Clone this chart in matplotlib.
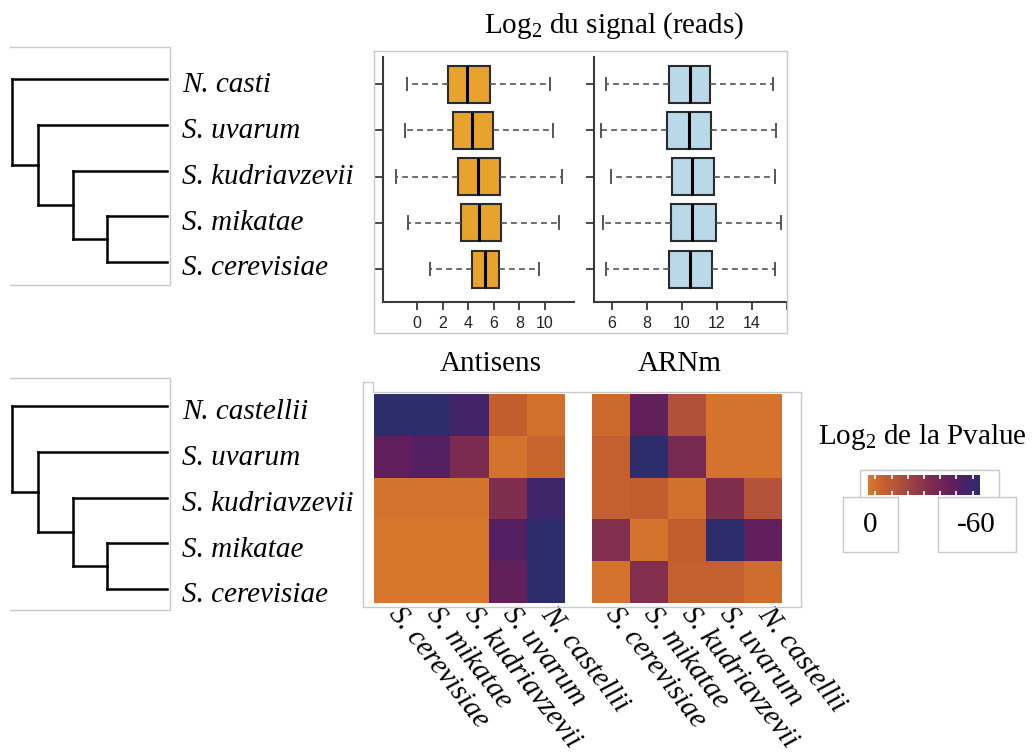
import numpy as np
import matplotlib
matplotlib.use("Agg")
import matplotlib.pyplot as plt
from matplotlib.lines import Line2D
from matplotlib.colors import LinearSegmentedColormap, Normalize
from matplotlib.cm import ScalarMappable

# ---------------- data ----------------
species_top = ["N. casti", "S. uvarum", "S. kudriavzevii", "S. mikatae", "S. cerevisiae"]
species_bottom = ["N. castellii", "S. uvarum", "S. kudriavzevii", "S. mikatae", "S. cerevisiae"]
heat_cols = ["S. cerevisiae", "S. mikatae", "S. kudriavzevii", "S. uvarum", "N. castellii"]

# tree: merges of (child_a, child_b); leaves 0..4, internal nodes 5..8
tree_merges = [(3, 4), (2, 5), (1, 6), (0, 7)]
tree_depth = [0.613, 0.394, 0.168, 0.0]   # x position of each merge (leaves at 1.0)

# boxplot stats (rows in species_top order)
anti_whislo = [-0.8, -0.94, -1.64, -0.68, 1.02]
anti_q1 = [2.45, 2.79, 3.23, 3.41, 4.27]
anti_med = [3.88, 4.27, 4.79, 4.87, 5.31]
anti_q3 = [5.70, 5.96, 6.48, 6.54, 6.41]
anti_whishi = [10.4, 10.65, 11.3, 11.1, 9.53]

mrna_whislo = [5.70, 5.39, 5.96, 5.53, 5.68]
mrna_q1 = [9.26, 9.14, 9.47, 9.40, 9.26]
mrna_med = [10.46, 10.40, 10.61, 10.58, 10.46]
mrna_q3 = [11.64, 11.70, 11.85, 11.95, 11.75]
mrna_whishi = [15.22, 15.41, 15.31, 15.70, 15.31]

anti_xticks = [0, 2, 4, 6, 8, 10]
mrna_xticks = [6, 8, 10, 12, 14, 16]
mrna_xticklabels = ["6", "8", "10", "12", "14", ""]

# log2 p-values (rows: species_bottom, cols: heat_cols)
antisens = [
    [-60, -60, -53, -9, -3],
    [-45, -48, -34, -2, -7],
    [-2, -2, -2, -33, -54],
    [-1, -1, -1, -48, -60],
    [-1, -1, -1, -44, -60],
]
arnm = [
    [-5, -44, -16, -2, -2],
    [-8, -60, -36, -2, -2],
    [-8, -9, -3, -33, -15],
    [-32, -2, -9, -60, -45],
    [-2, -32, -8, -8, -4],
]
pval_min, pval_max = -60, 0

# ---------------- style ----------------
plt.rcParams["font.family"] = ["Liberation Serif", "DejaVu Serif"]
plt.rcParams["mathtext.fontset"] = "custom"
plt.rcParams["mathtext.rm"] = "Liberation Serif"
plt.rcParams["mathtext.it"] = "Liberation Serif:italic"

W, H = 1032, 753
fig = plt.figure(figsize=(W / 100, H / 100), dpi=100)
FRAME = "#c9c9c9"
LABEL_FS = 21


def add_ax(x0, y0, x1, y1):
    return fig.add_axes([x0 / W, 1 - y1 / H, (x1 - x0) / W, (y1 - y0) / H])


def frame(pts):
    xs = [p[0] / W for p in pts]
    ys = [1 - p[1] / H for p in pts]
    fig.add_artist(Line2D(xs, ys, color=FRAME, lw=1.0))


def draw_tree(ax, labels):
    pos_y = {i: float(i) for i in range(len(labels))}
    pos_x = {i: 1.0 for i in range(len(labels))}
    node = len(labels)
    for (a, b), d in zip(tree_merges, tree_depth):
        ax.plot([d, d], [pos_y[a], pos_y[b]], color="black", lw=1.8,
                solid_capstyle="projecting", clip_on=False)
        for c in (a, b):
            ax.plot([d, pos_x[c]], [pos_y[c], pos_y[c]], color="black", lw=1.8,
                    solid_capstyle="projecting", clip_on=False)
        pos_y[node] = (pos_y[a] + pos_y[b]) / 2
        pos_x[node] = d
        node += 1
    ax.set_xlim(0, 1)
    ax.set_ylim(len(labels) - 1, 0)
    ax.axis("off")
    for i, lab in enumerate(labels):
        ax.text(1.1, i + 0.14, lab, style="italic", fontsize=LABEL_FS,
                va="center", ha="left", clip_on=False)


# ---------------- dendrograms ----------------
frame([(10, 47), (170, 47), (170, 285), (10, 285)])
draw_tree(add_ax(12, 79, 167, 262), species_top)

frame([(10, 378), (170, 378), (170, 610), (10, 610)])
draw_tree(add_ax(12, 406, 167, 589), species_bottom)

# ---------------- boxplots ----------------
frame([(374, 51), (787, 51), (787, 333), (374, 333), (374, 51)])
fig.text(614 / W, 1 - 26 / H, r"Log$_2$ du signal (reads)", ha="center", va="center",
         fontsize=LABEL_FS)


def make_stats(lo, q1, med, q3, hi):
    return [dict(whislo=a, q1=b, med=c, q3=d, whishi=e, fliers=[])
            for a, b, c, d, e in zip(lo, q1, med, q3, hi)]


def box_panel(ax, stats, color, xlim, xticks, xticklabels):
    n = len(stats)
    positions = list(range(n, 0, -1))
    ax.bxp(stats, positions=positions, widths=0.8, orientation="horizontal",
           patch_artist=True, showfliers=False, capwidths=0.28,
           boxprops=dict(facecolor=color, edgecolor="#2b2b2b", linewidth=1.5),
           medianprops=dict(color="black", linewidth=2.2),
           whiskerprops=dict(color="#555555", linewidth=1.2, linestyle=(0, (3.5, 2.5))),
           capprops=dict(color="#555555", linewidth=1.4))
    ax.set_xlim(*xlim)
    ax.set_ylim(0.287, 5.584)
    for s in ("top", "right"):
        ax.spines[s].set_visible(False)
    for s in ("left", "bottom"):
        ax.spines[s].set_color("#3a3a3a")
        ax.spines[s].set_linewidth(1.5)
    ax.set_yticks(positions)
    ax.set_yticklabels([])
    ax.set_xticks(xticks)
    ax.set_xticklabels(xticklabels, family="Liberation Sans", fontsize=11.5, color="#222222")
    ax.tick_params(axis="both", length=6, width=1.3, color="#3a3a3a", pad=4)
    ax.patch.set_alpha(0)


ax_b1 = add_ax(383, 57, 574, 302)
box_panel(ax_b1, make_stats(anti_whislo, anti_q1, anti_med, anti_q3, anti_whishi),
          "#E8A32E", (-2.66, 12.27), anti_xticks, [str(t) for t in anti_xticks])
ax_b2 = add_ax(594, 57, 787, 302)
box_panel(ax_b2, make_stats(mrna_whislo, mrna_q1, mrna_med, mrna_q3, mrna_whishi),
          "#B9D8E8", (4.99, 16.02), mrna_xticks, mrna_xticklabels)

# ---------------- heatmaps ----------------
cmap = LinearSegmentedColormap.from_list(
    "pv",
    [(0.0, "#2D2D6B"), (0.13, "#45236A"), (0.25, "#601F5D"), (0.45, "#7E2D4E"),
     (0.75, "#B5533A"), (0.87, "#C4612F"), (1.0, "#DA7A2D")])
norm = Normalize(vmin=pval_min, vmax=pval_max)

frame([(363, 382), (373, 382), (373, 392), (801, 392), (801, 607), (363, 607), (363, 382)])
fig.text(491 / W, 1 - 364 / H, "Antisens", ha="center", va="center", fontsize=LABEL_FS)
fig.text(680 / W, 1 - 364 / H, "ARNm", ha="center", va="center", fontsize=LABEL_FS)


def heat_panel(ax, mat):
    ax.imshow(np.array(mat), cmap=cmap, norm=norm, aspect="auto", interpolation="nearest")
    for s in ax.spines.values():
        s.set_visible(False)
    ax.set_yticks([])
    ax.set_xticks(range(len(heat_cols)))
    ax.set_xticklabels(heat_cols, rotation=-52, ha="left", va="center",
                       rotation_mode="anchor", style="italic", fontsize=LABEL_FS)
    ax.tick_params(axis="x", length=0, pad=5)


heat_panel(add_ax(374, 394, 565, 603), antisens)
heat_panel(add_ax(592, 394, 782, 603), arnm)

# ---------------- colour legend ----------------
fig.text(922 / W, 1 - 437 / H, r"Log$_2$ de la Pvalue", ha="center", va="center",
         fontsize=LABEL_FS)
frame([(860, 497), (860, 470), (999, 470), (999, 497)])
frame([(843, 497), (898, 497), (898, 552), (843, 552), (843, 497)])
frame([(938, 497), (1016, 497), (1016, 552), (938, 552), (938, 497)])
cax = add_ax(868, 475, 980, 495)
cb = fig.colorbar(ScalarMappable(norm=norm, cmap=cmap), cax=cax, orientation="horizontal")
cax.invert_xaxis()
cb.outline.set_visible(False)
cb.set_ticks(np.linspace(-4, -56, 7))
cax.tick_params(axis="x", which="both", direction="in", length=3, width=1.2, color="white",
                top=True, bottom=True, labelbottom=False)
fig.text(870 / W, 1 - 525 / H, str(pval_max), ha="center", va="center", fontsize=LABEL_FS)
fig.text(976 / W, 1 - 525 / H, str(pval_min), ha="center", va="center", fontsize=LABEL_FS)

fig.savefig("out.png", dpi=100)
